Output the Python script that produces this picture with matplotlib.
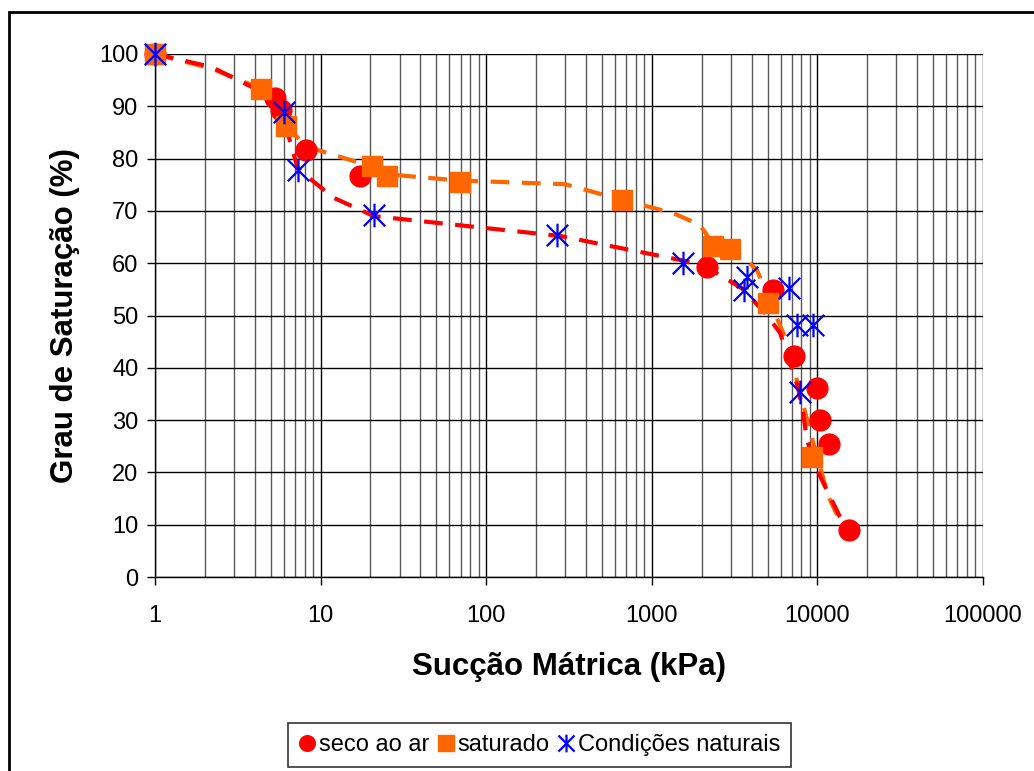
import numpy as np
import matplotlib.pyplot as plt
from matplotlib.path import Path
from matplotlib.patches import Rectangle

plt.rcParams['font.family'] = ['Liberation Sans', 'DejaVu Sans']

# seco ao ar
seco_x = [1, 5.3, 5.8, 8.2, 17.3, 2150, 5400, 7200, 10000, 10300, 11800, 15600]
seco_y = [100, 91.5, 89.3, 81.6, 76.7, 59.2, 54.8, 42.3, 36.2, 30.0, 25.4, 9.0]

# saturado
sat_x = [1, 4.35, 6.2, 20.3, 25.1, 69.5, 660, 2350, 2970, 5050, 9230]
sat_y = [100, 93.4, 86.3, 78.5, 76.6, 75.5, 72.1, 63.3, 62.8, 52.3, 22.9]

# condicoes naturais
nat_x = [1, 6.0, 7.3, 21.1, 268, 1550, 3740, 3600, 6760, 7500, 9450, 7900]
nat_y = [100, 89.0, 77.8, 69.2, 65.4, 60.1, 57.3, 54.9, 55.2, 48.2, 48.2, 35.4]

# trend curves (dashed)
red_cx = [1, 2.2, 5.3, 5.8, 7.3, 12, 21, 280, 1550, 2150, 3500, 4820, 5950,
          7630, 8190, 8650, 9950, 11600, 13700, 15600]
red_cy = [100, 97.5, 91.5, 89.0, 78.0, 72.5, 69.0, 65.2, 60.5, 59.2, 55.2, 50.5,
          46.7, 36.3, 31.4, 26.2, 20.5, 16.1, 11.5, 9.0]
org_cx = [1, 2.2, 4.35, 6.2, 8.2, 20.3, 25.1, 69.5, 300, 660, 1343, 1955, 2350,
          2970, 3557, 4315, 5050, 6000, 7000, 7500, 9230, 11650, 13000, 15600]
org_cy = [100, 97.2, 93.4, 86.3, 82.3, 78.5, 77.0, 75.8, 75.1, 72.1, 69.6, 67.3,
          63.6, 62.8, 61.2, 58.7, 53.5, 47.8, 42.9, 37.7, 26.8, 15.4, 12.2, 9.0]

xticks = [1, 10, 100, 1000, 10000, 100000]
xticklabels = ['1', '10', '100', '1000', '10000', '100000']
yticks = list(range(0, 101, 10))

# Excel style star marker: X with a vertical bar
star = Path([(-1, -1), (1, 1), (-1, 1), (1, -1), (0, -1.1), (0, 1.1)],
            [Path.MOVETO, Path.LINETO, Path.MOVETO, Path.LINETO, Path.MOVETO, Path.LINETO])

fig = plt.figure(figsize=(10.34, 7.71), dpi=100)
ax = fig.add_axes([155/1034, 1 - 577/771, (983-155)/1034, (577-54)/771])

ax.set_xscale('log')
ax.set_xlim(1, 100000)
ax.set_ylim(0, 100)

# grid: black decades and tens, grey minor decades
for d in [1, 10, 100, 1000, 10000]:
    for m in range(2, 10):
        ax.axvline(d*m, color='#5a5a5a', lw=1.0, zorder=0)
for xt in xticks:
    ax.axvline(xt, color='black', lw=1.0, zorder=0)
for yt in yticks:
    ax.axhline(yt, color='black', lw=1.0, zorder=0)

ax.plot(org_cx, org_cy, color='#FF6600', lw=3, ls=(0, (4.5, 3)), zorder=2)
ax.plot(red_cx, red_cy, color='#FF0000', lw=3, ls=(0, (4.5, 3)), zorder=2)

ax.plot(seco_x, seco_y, 'o', color='#FF0000', ms=15, ls='none', label='seco ao ar',
        zorder=3, clip_on=False)
ax.plot(sat_x, sat_y, 's', color='#FF6600', ms=15, ls='none', label='saturado',
        zorder=4, clip_on=False)
ax.plot(nat_x, nat_y, marker=star, color='#0000FF', mfc='none', mec='#0000FF', mew=1.6,
        ms=17, ls='none', label='Condições naturais', zorder=5, clip_on=False)

ax.set_xticks(xticks)
ax.set_xticklabels(xticklabels)
ax.xaxis.set_minor_locator(plt.NullLocator())
ax.set_yticks(yticks)
ax.tick_params(axis='both', labelsize=17, length=6, width=1, color='black')
ax.tick_params(axis='x', pad=14)
ax.tick_params(axis='y', pad=6)

for s in ['top', 'right']:
    ax.spines[s].set_visible(False)
ax.spines['left'].set_linewidth(1)
ax.spines['bottom'].set_linewidth(1)

ax.set_ylabel('Grau de Saturação (%)', fontsize=22.5, fontweight='bold', labelpad=14)
ax.set_xlabel('Sucção Mátrica (kPa)', fontsize=22.5, fontweight='bold', labelpad=18)

leg = fig.legend(loc='center', bbox_to_anchor=(539.5/1034, 1 - 745/771), ncol=3,
                 fontsize=17, frameon=True, fancybox=False, edgecolor='black',
                 handlelength=0.7, handletextpad=0.15, columnspacing=0.35,
                 markerscale=0.75, borderpad=0.45, borderaxespad=0)
leg.get_frame().set_linewidth(1.2)

# outer chart frame
fig.patches.append(Rectangle((9/1034, -0.1), 1.2, 1 - 12/771 + 0.1, transform=fig.transFigure,
                             fill=False, edgecolor='black', lw=2))

fig.savefig('out.png', dpi=100)
